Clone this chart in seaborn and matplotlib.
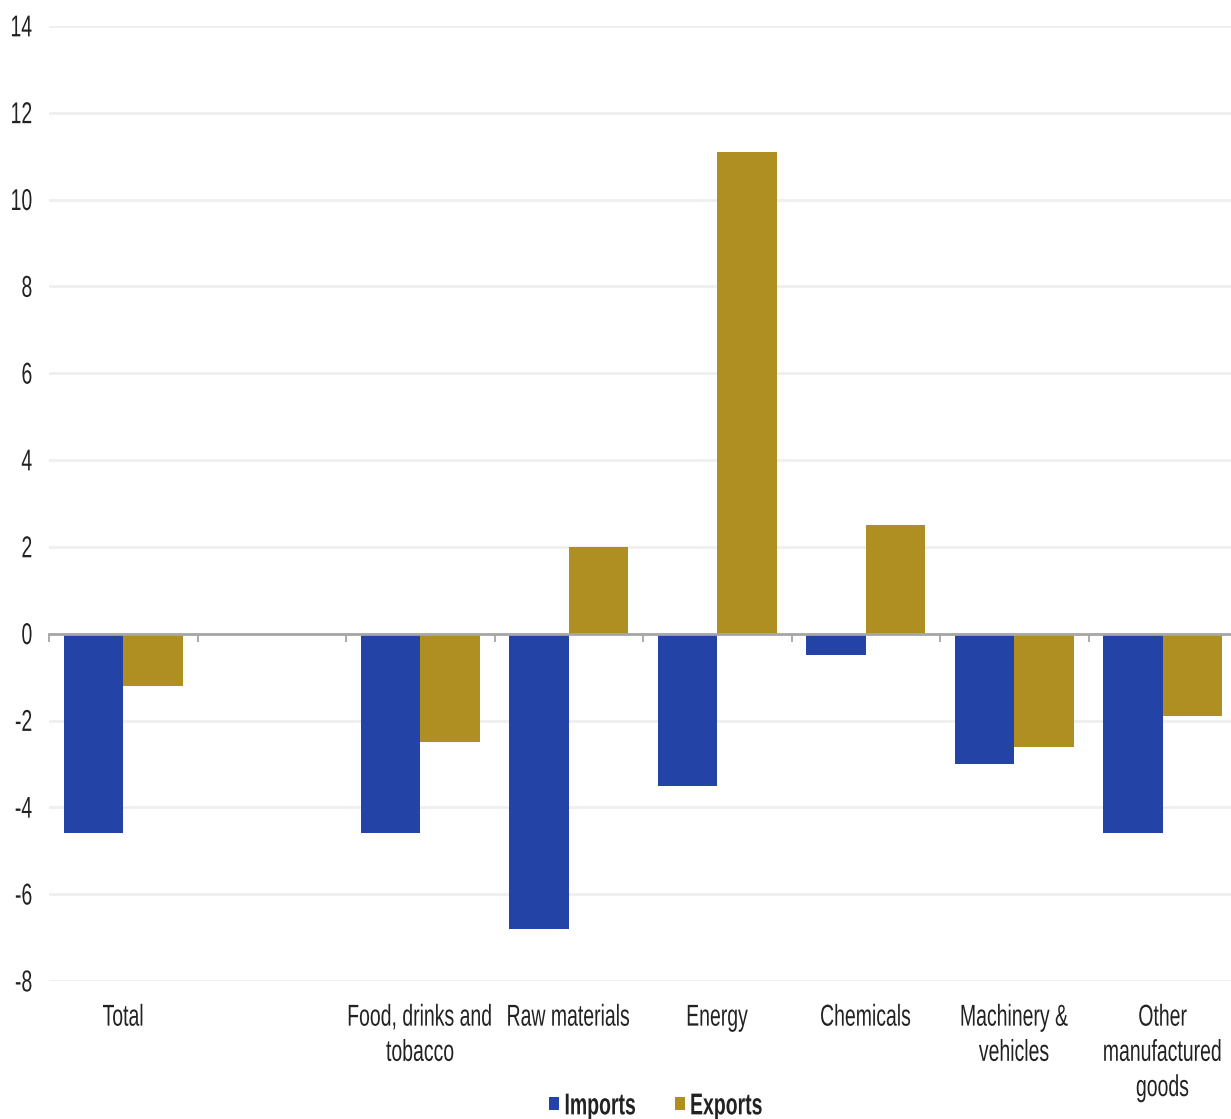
import numpy as np
import pandas as pd
import matplotlib
matplotlib.use("Agg")
import matplotlib.pyplot as plt
from matplotlib.patheffects import AbstractPathEffect
from matplotlib.transforms import Affine2D
import seaborn as sns

# Year-on-year change by product group (%)
categories = ["Total", "", "Food, drinks and\ntobacco", "Raw materials", "Energy",
              "Chemicals", "Machinery &\nvehicles", "Other\nmanufactured\ngoods"]
imports = [-4.6, np.nan, -4.6, -6.8, -3.5, -0.5, -3.0, -4.6]
exports = [-1.2, np.nan, -2.5, 2.0, 11.1, 2.5, -2.6, -1.9]
series = ["Imports", "Exports"]
colors = {"Imports": "#2443a6", "Exports": "#b08f22"}
yticks = [-8, -6, -4, -2, 0, 2, 4, 6, 8, 10, 12, 14]


class Tall(AbstractPathEffect):
    """Draw glyphs stretched vertically about mid cap height (narrow, tall look)."""

    def __init__(self, sy=1.55, y0=36.0):
        super().__init__()
        self.sy = sy
        self.y0 = y0  # glyph units: 100 per em

    def draw_path(self, renderer, gc, tpath, affine, rgbFace=None):
        stretch = Affine2D().translate(0, -self.y0).scale(1, self.sy).translate(0, self.y0)
        renderer.draw_path(gc, tpath, stretch + affine, rgbFace)


sns.set_theme(style="white")
plt.rcParams["font.family"] = ["Liberation Sans", "DejaVu Sans"]

FS = 14
TXT = "#222222"

# slot keys keep the empty spacer unique in the categorical order
keys = [f"c{i}" for i in range(len(categories))]
df = pd.DataFrame({
    "key": keys * 2,
    "flow": ["Imports"] * len(keys) + ["Exports"] * len(keys),
    "value": imports + exports,
}).dropna()

fig = plt.figure(figsize=(12.31, 11.19), dpi=100)
ax = fig.add_axes([49 / 1231, 1 - 981 / 1119, 1188 / 1231, (981 - 26) / 1119])

sns.barplot(data=df, x="key", y="value", hue="flow", order=keys, hue_order=series,
            palette=colors, saturation=1, width=0.8, linewidth=0, ax=ax, legend=True)

ax.set_xlim(-0.5, len(keys) - 0.5)
ax.set_ylim(yticks[0], yticks[-1])
ax.set_yticks(yticks)
ax.set_yticklabels([str(t) for t in yticks])
ax.set_xticks(range(len(keys)))
ax.set_xticklabels(categories, linespacing=2.4)
ax.set_xlabel("")
ax.set_ylabel("")

ax.yaxis.grid(True, color="#efefef", linewidth=2)
ax.set_axisbelow(True)
for s in ax.spines.values():
    s.set_visible(False)
ax.tick_params(axis="x", length=0, pad=20, labelsize=FS, labelcolor=TXT)
ax.tick_params(axis="y", length=0, pad=12, labelsize=FS, labelcolor=TXT)
for lab in ax.get_xticklabels() + ax.get_yticklabels():
    lab.set_path_effects([Tall()])

# zero axis line with category-boundary ticks
zero_frac = (0 - yticks[0]) / (yticks[-1] - yticks[0])
sec = ax.secondary_xaxis(zero_frac)
sec.set_xticks([])
sec.set_xticks(np.arange(-0.5, len(keys), 1.0), minor=True)
sec.xaxis.set_ticks_position("bottom")
sec.spines["bottom"].set_color("#a6a6a6")
sec.spines["bottom"].set_linewidth(2)
sec.tick_params(which="minor", direction="out", length=6, width=1.3, color="#a6a6a6")
sec.set_zorder(5)

leg = ax.legend(loc="center", bbox_to_anchor=(656 / 1231, 1 - 1106 / 1119),
                bbox_transform=fig.transFigure, ncol=2, frameon=False,
                handlelength=0.52, handleheight=0.6, handletextpad=0.26,
                columnspacing=2.0, borderpad=0, prop={"size": FS, "weight": "bold"})
for t in leg.get_texts():
    t.set_color(TXT)
    t.set_path_effects([Tall()])

fig.savefig("out.png", dpi=100)
